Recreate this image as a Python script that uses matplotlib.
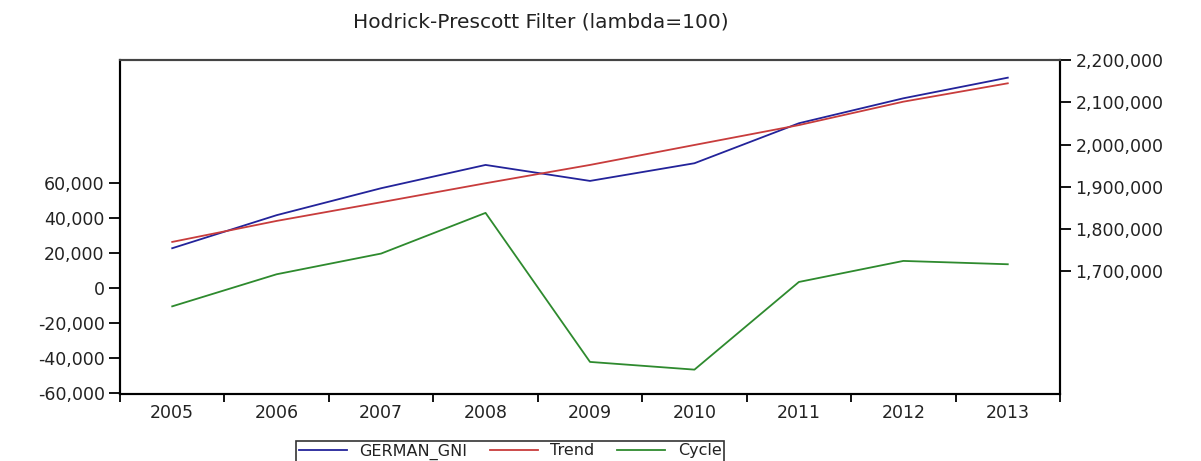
import numpy as np
import matplotlib
matplotlib.use("Agg")
import matplotlib.pyplot as plt
from matplotlib.ticker import FuncFormatter

plt.rcParams['font.family'] = ['DejaVu Sans']

years = [2005, 2006, 2007, 2008, 2009, 2010, 2011, 2012, 2013]
german_gni = [1754800, 1833000, 1896700, 1951800, 1914000, 1955800, 2050400, 2109400, 2158200]
trend = [1769700, 1819400, 1863600, 1908500, 1951800, 1999000, 2046000, 2101400, 2144900]
cycle = [-10500, 7800, 19600, 42800, -42200, -46600, 3400, 15400, 13500]

left_ticks = [-60000, -40000, -20000, 0, 20000, 40000, 60000]
right_ticks = [1700000, 1800000, 1900000, 2000000, 2100000, 2200000]

c_gni = '#23239a'
c_trend = '#c83c3c'
c_cycle = '#2e8a2e'
txt = '#222222'

fig = plt.figure(figsize=(12.01, 4.61), dpi=100)
ax = fig.add_axes([120 / 1201, 1 - 394 / 461, 940 / 1201, 334 / 461])
ax2 = ax.twinx()

# cycle on left axis, series + trend on right axis
l3, = ax.plot(years, cycle, color=c_cycle, lw=1.3, label='Cycle')
l1, = ax2.plot(years, german_gni, color=c_gni, lw=1.3, label='GERMAN_GNI')
l2, = ax2.plot(years, trend, color=c_trend, lw=1.3, label='Trend')

ax.set_xlim(2004.5, 2013.5)
ax.set_ylim(-60500, 130000)
ax2.set_ylim(1410000, 2200000)

ax.set_xticks(np.arange(2004.5, 2014, 1))
ax.set_xticklabels([])
ax.set_xticks(years, minor=True)
ax.set_xticklabels([str(y) for y in years], minor=True)
ax.tick_params(axis='x', which='major', direction='out', length=6, width=1.3)
ax.tick_params(axis='x', which='minor', length=0, pad=7, labelsize=12.5, labelcolor=txt)

fmt = FuncFormatter(lambda v, p: f'{int(v):,}')
ax.set_yticks(left_ticks)
ax.yaxis.set_major_formatter(fmt)
ax2.set_yticks(right_ticks)
ax2.yaxis.set_major_formatter(fmt)
ax.tick_params(axis='y', direction='out', length=8, width=1.3, labelsize=12.5, pad=3, labelcolor=txt)
ax2.tick_params(axis='y', direction='out', length=8, width=1.3, labelsize=12.5, pad=3, labelcolor=txt)

for a in (ax, ax2):
    for s in a.spines.values():
        s.set_linewidth(1.5)
        s.set_color('black')
    a.spines['top'].set_color('#444444')

fig.text(541 / 1201, 1 - 22 / 461, 'Hodrick-Prescott Filter (lambda=100)',
         ha='center', va='center', fontsize=14.5, color=txt)

leg = fig.legend([l1, l2, l3], ['GERMAN_GNI', 'Trend', 'Cycle'], ncol=3,
                 loc='upper center', bbox_to_anchor=(510 / 1201, 1 - 441 / 461),
                 frameon=True, fancybox=False, fontsize=11.5, handlelength=3.0,
                 columnspacing=1.4, handletextpad=0.8, borderpad=0.15,
                 borderaxespad=0)
for t in leg.get_texts():
    t.set_color(txt)
leg.get_frame().set_edgecolor('black')
leg.get_frame().set_linewidth(1.2)

fig.savefig('out.png', dpi=100)
